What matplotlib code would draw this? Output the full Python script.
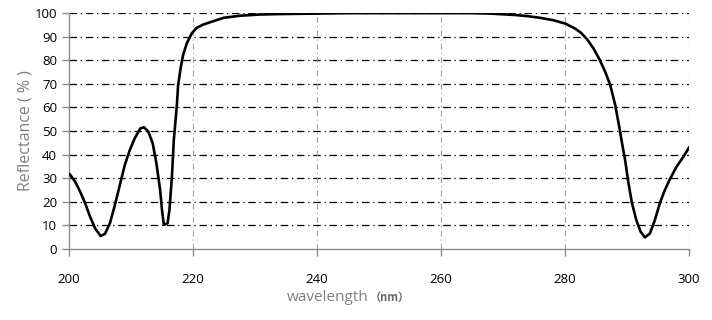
"""Reflectance spectrum of a UV mirror coating, 200-300 nm."""

import matplotlib

matplotlib.use("Agg")
import matplotlib.pyplot as plt

WAVELENGTH_NM = [
    200.0, 200.2, 201.0, 201.8, 202.6, 203.4, 204.2, 205.1, 205.8, 206.6,
    207.4, 208.2, 209.0, 209.8, 210.6, 211.5, 212.1, 212.8, 213.5, 214.1,
    214.7, 215.0, 215.3, 215.9, 216.2, 216.6, 216.9, 217.4, 217.6, 218.0,
    218.4, 219.0, 219.8, 220.6, 221.7, 223.3, 224.9, 227.6, 230.8, 233.8,
    240.0, 245.0, 250.0, 260.0, 265.0, 268.0, 270.0, 272.0, 274.0, 276.0,
    278.1, 280.0, 281.6, 282.6, 283.6, 284.6, 285.6, 286.5, 287.3, 288.1,
    288.7, 289.2, 289.7, 290.2, 290.8, 291.5, 292.2, 292.9, 293.7, 294.5,
    295.3, 296.1, 297.0, 298.0, 299.1, 300.0,
]
REFLECTANCE_PCT = [
    31.8, 31.4, 28.5, 24.3, 19.4, 13.7, 8.8, 5.5, 6.4, 10.9,
    18.6, 27.1, 35.6, 41.9, 46.9, 51.1, 51.6, 49.7, 44.8, 36.3,
    25.0, 16.5, 10.2, 10.9, 16.5, 30.6, 46.0, 61.0, 69.5, 76.6,
    82.2, 87.2, 91.4, 93.8, 95.2, 96.6, 98.0, 98.9, 99.4, 99.6,
    99.8, 100.0, 100.0, 100.0, 100.0, 99.8, 99.5, 99.2, 98.7, 98.0,
    97.0, 95.6, 93.5, 91.6, 88.8, 85.0, 80.2, 75.0, 69.5, 61.0,
    52.5, 44.8, 37.7, 28.5, 19.4, 12.3, 7.3, 4.9, 6.6, 12.3,
    19.4, 25.0, 30.0, 34.9, 39.1, 43.0,
]
X_TICKS = [200, 220, 240, 260, 280, 300]
Y_TICKS = [0, 10, 20, 30, 40, 50, 60, 70, 80, 90, 100]

GRAY = "#8c8c8c"
LABEL_GRAY = "#7f7f7f"


def main() -> None:
    figure = plt.figure(figsize=(7.12, 3.2), dpi=100)
    axis = figure.add_axes([0.0969, 0.222, 0.8708, 0.737])

    axis.plot(WAVELENGTH_NM, REFLECTANCE_PCT, color="black", linewidth=1.9, zorder=3,
              solid_joinstyle="round")

    axis.set_xlim(200, 300)
    axis.set_ylim(0, 100)
    axis.set_xticks(X_TICKS)
    axis.set_yticks(Y_TICKS)

    # horizontal grid black dash-dot, vertical grid lighter gray
    for value in Y_TICKS[1:]:
        axis.axhline(value, color="black", linewidth=0.9, linestyle=(0, (6, 3, 1, 3)), zorder=1)
    for value in X_TICKS[1:]:
        axis.axvline(value, color="#a0a0a0", linewidth=0.8, linestyle=(0, (5, 3, 1, 3)), zorder=1)

    for side in ("top", "right"):
        axis.spines[side].set_visible(False)
    for side in ("left", "bottom"):
        axis.spines[side].set_color(GRAY)
        axis.spines[side].set_linewidth(1.0)

    axis.tick_params(axis="both", colors=GRAY, length=5, width=1.0, direction="out",
                     labelcolor="black", labelsize=9.5)
    axis.tick_params(axis="x", pad=12)
    for label in axis.get_xticklabels() + axis.get_yticklabels():
        label.set_family("Open Sans")

    axis.set_ylabel("Reflectance ( % )", color=LABEL_GRAY, fontsize=11.5, family="Open Sans")
    axis.yaxis.set_label_coords(-0.057, 0.5)
    figure.text(0.517, 0.07, "wavelength", color=LABEL_GRAY, fontsize=11,
                family="Open Sans", ha="right", va="center")
    figure.text(0.519, 0.07, "（nm）", color="#666666", fontsize=8, fontweight="bold",
                family=["Noto Sans CJK SC", "DejaVu Sans"], ha="left", va="center")

    figure.savefig("out.png", dpi=100)
    plt.close(figure)


if __name__ == "__main__":
    main()
